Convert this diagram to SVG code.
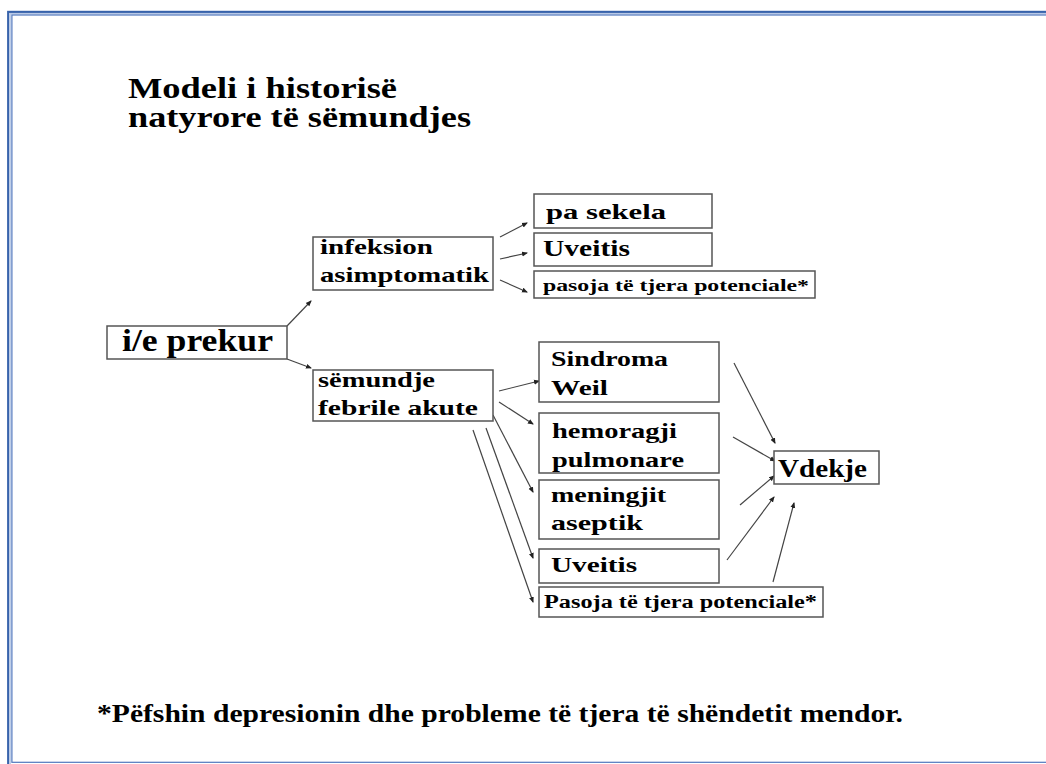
<svg xmlns="http://www.w3.org/2000/svg" width="1046" height="764" viewBox="0 0 1046 764">
<defs>
<style>
.t{font-family:"Liberation Serif","Times New Roman",serif;font-weight:bold;fill:#000}
.b{fill:#fff;stroke:#555;stroke-width:1.5}
.c{stroke:#444;stroke-width:1.2;fill:none;marker-end:url(#ah)}
</style>
<marker id="ah" viewBox="0 0 6 6" refX="5" refY="3" markerWidth="6" markerHeight="6" markerUnits="userSpaceOnUse" orient="auto">
<path d="M0,0.5 L6,3 L0,5.5 z" fill="#222"/>
</marker>
</defs>
<rect width="1046" height="764" fill="#fff"/>
<g id="frame" fill="none">
<rect x="8.2" y="11.9" width="1100" height="800" stroke="#3863ab" stroke-width="2.2"/>
<rect x="10.1" y="13.7" width="1100" height="760" stroke="#b9c9e6" stroke-width="1.6"/>
<rect x="11.9" y="15" width="1100" height="747.3" stroke="#5077bd" stroke-width="1.2"/>
</g>
<g id="title">
<text class="t" x="128" y="98" font-size="29" textLength="269" lengthAdjust="spacingAndGlyphs">Modeli i historisë</text>
<text class="t" x="128" y="127" font-size="29" textLength="343" lengthAdjust="spacingAndGlyphs">natyrore të sëmundjes</text>
</g>
<g id="connectors">
<line class="c" x1="287" y1="326" x2="311" y2="301"/>
<line class="c" x1="287" y1="359" x2="311" y2="368"/>
<line class="c" x1="500" y1="237" x2="527" y2="223"/>
<line class="c" x1="500" y1="259" x2="527" y2="253"/>
<line class="c" x1="500" y1="280" x2="527" y2="292"/>
<line class="c" x1="499" y1="391" x2="539" y2="381"/>
<line class="c" x1="499" y1="402" x2="533" y2="424"/>
<line class="c" x1="493" y1="415" x2="533" y2="492"/>
<line class="c" x1="486" y1="428" x2="533" y2="558"/>
<line class="c" x1="473" y1="430" x2="533" y2="602"/>
<line class="c" x1="734" y1="363" x2="775" y2="443"/>
<line class="c" x1="733" y1="437" x2="775" y2="461"/>
<line class="c" x1="740" y1="505" x2="774" y2="476"/>
<line class="c" x1="727" y1="560" x2="774" y2="497"/>
<line class="c" x1="773" y1="582" x2="794" y2="503"/>
</g>
<g id="n-prekur">
<rect class="b" x="107" y="326" width="180" height="33"/>
<text class="t" x="122" y="351" font-size="31" textLength="151" lengthAdjust="spacingAndGlyphs">i/e prekur</text>
</g>
<g id="n-infeksion">
<rect class="b" x="313" y="237" width="180" height="53"/>
<text class="t" x="320" y="254" font-size="22" textLength="113" lengthAdjust="spacingAndGlyphs">infeksion</text>
<text class="t" x="320" y="282" font-size="22" textLength="169" lengthAdjust="spacingAndGlyphs">asimptomatik</text>
</g>
<g id="n-semundje">
<rect class="b" x="313" y="370" width="180" height="51"/>
<text class="t" x="318" y="387" font-size="22" textLength="117" lengthAdjust="spacingAndGlyphs">sëmundje</text>
<text class="t" x="318" y="415" font-size="22" textLength="160" lengthAdjust="spacingAndGlyphs">febrile akute</text>
</g>
<g id="n-pasekela">
<rect class="b" x="534" y="194" width="178" height="34"/>
<text class="t" x="546" y="219" font-size="22" textLength="120" lengthAdjust="spacingAndGlyphs">pa sekela</text>
</g>
<g id="n-uveitis1">
<rect class="b" x="534" y="233" width="178" height="33"/>
<text class="t" x="543" y="256" font-size="23" textLength="87" lengthAdjust="spacingAndGlyphs">Uveitis</text>
</g>
<g id="n-pasoja1">
<rect class="b" x="534" y="271" width="281" height="27"/>
<text class="t" x="543" y="291" font-size="17" textLength="266" lengthAdjust="spacingAndGlyphs">pasoja të tjera potenciale*</text>
</g>
<g id="n-weil">
<rect class="b" x="539" y="342" width="180" height="60"/>
<text class="t" x="551" y="366" font-size="21" textLength="117" lengthAdjust="spacingAndGlyphs">Sindroma</text>
<text class="t" x="551" y="395" font-size="21" textLength="57" lengthAdjust="spacingAndGlyphs">Weil</text>
</g>
<g id="n-hemoragji">
<rect class="b" x="539" y="413" width="180" height="60"/>
<text class="t" x="552" y="438" font-size="21" textLength="125" lengthAdjust="spacingAndGlyphs">hemoragji</text>
<text class="t" x="552" y="467" font-size="21" textLength="132" lengthAdjust="spacingAndGlyphs">pulmonare</text>
</g>
<g id="n-meningjit">
<rect class="b" x="539" y="480" width="180" height="59"/>
<text class="t" x="551" y="502" font-size="21" textLength="115" lengthAdjust="spacingAndGlyphs">meningjit</text>
<text class="t" x="551" y="530" font-size="21" textLength="92" lengthAdjust="spacingAndGlyphs">aseptik</text>
</g>
<g id="n-uveitis2">
<rect class="b" x="539" y="549" width="180" height="34"/>
<text class="t" x="551" y="572" font-size="22" textLength="86" lengthAdjust="spacingAndGlyphs">Uveitis</text>
</g>
<g id="n-pasoja2">
<rect class="b" x="539" y="587" width="284" height="30"/>
<text class="t" x="544" y="608" font-size="18" textLength="273" lengthAdjust="spacingAndGlyphs">Pasoja të tjera potenciale*</text>
</g>
<g id="n-vdekje">
<rect class="b" x="774" y="451" width="105" height="33" stroke="#333"/>
<text class="t" x="778" y="477" font-size="25" textLength="89" lengthAdjust="spacingAndGlyphs">Vdekje</text>
</g>
<g id="footnote">
<text class="t" x="97" y="722" font-size="25" textLength="806" lengthAdjust="spacingAndGlyphs">*Pëfshin depresionin dhe probleme të tjera të shëndetit mendor.</text>
</g>
</svg>
